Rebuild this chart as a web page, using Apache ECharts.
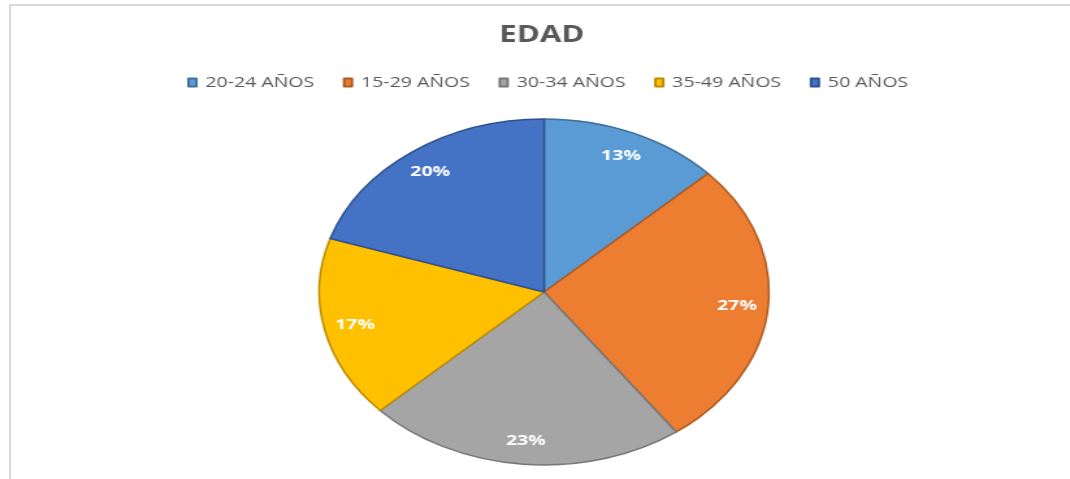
<!DOCTYPE html>
<html>
<head>
<meta charset="utf-8">
<script src="https://cdn.jsdelivr.net/npm/echarts@6/dist/echarts.min.js"></script>
<style>
  html, body { margin: 0; padding: 0; background: #fff; width: 1070px; height: 479px; overflow: hidden; }
  #frame { position: absolute; left: 9px; top: 4px; width: 1061px; height: 475px; border-left: 2px solid #d9d9d9; border-top: 2px solid #d9d9d9; box-sizing: border-box; }
  #main { position: absolute; left: 0; top: 0; width: 823px; height: 479px; transform: scaleX(1.3001); transform-origin: 0 0; }
</style>
</head>
<body>
<div id="frame"></div>
<div id="main"></div>
<script>
const titleText = 'EDAD';
const categories = ['20-24 AÑOS', '15-29 AÑOS', '30-34 AÑOS', '35-49 AÑOS', '50 AÑOS'];
const values = [13, 27, 23, 17, 20];
const colors = ['#5B9BD5', '#ED7D31', '#A5A5A5', '#FFC000', '#4472C4'];
const borderColors = ['#41719C', '#AE5A21', '#787878', '#BC8C00', '#2F528F'];

const chart = echarts.init(document.getElementById('main'), null, { renderer: 'canvas' });

const pieData = categories.map((name, i) => ({
  name: name,
  value: values[i],
  itemStyle: { color: colors[i], borderColor: borderColors[i], borderWidth: 1.5 }
}));
const labelData = categories.map((name, i) => ({ name: name, value: values[i] }));

chart.setOption({
  animation: false,
  color: colors,
  title: {
    text: titleText,
    left: 379,
    top: 18,
    textStyle: { fontFamily: 'Open Sans', fontWeight: 'bold', fontSize: 24, color: '#595959' }
  },
  legend: {
    data: categories,
    left: 139,
    top: 70,
    itemWidth: 6,
    itemHeight: 8,
    itemGap: 22,
    icon: 'rect',
    textStyle: { fontFamily: 'Open Sans', fontSize: 15, color: '#595959', padding: [0, 0, 0, 2] }
  },
  series: [
    {
      type: 'pie',
      center: [418.5, 292],
      radius: [0, 173],
      startAngle: 90,
      clockwise: true,
      label: { show: false },
      labelLine: { show: false },
      silent: true,
      data: pieData
    },
    {
      type: 'pie',
      center: [418.5, 292],
      radius: [136, 156],
      startAngle: 90,
      clockwise: true,
      silent: true,
      itemStyle: { color: 'transparent', borderWidth: 0 },
      emphasis: { disabled: true },
      label: {
        show: true,
        position: 'inside',
        formatter: p => p.value + '%',
        fontFamily: 'Open Sans',
        fontWeight: 'bold',
        fontSize: 15,
        color: '#ffffff'
      },
      labelLine: { show: false },
      data: labelData
    }
  ]
});
</script>
</body>
</html>
